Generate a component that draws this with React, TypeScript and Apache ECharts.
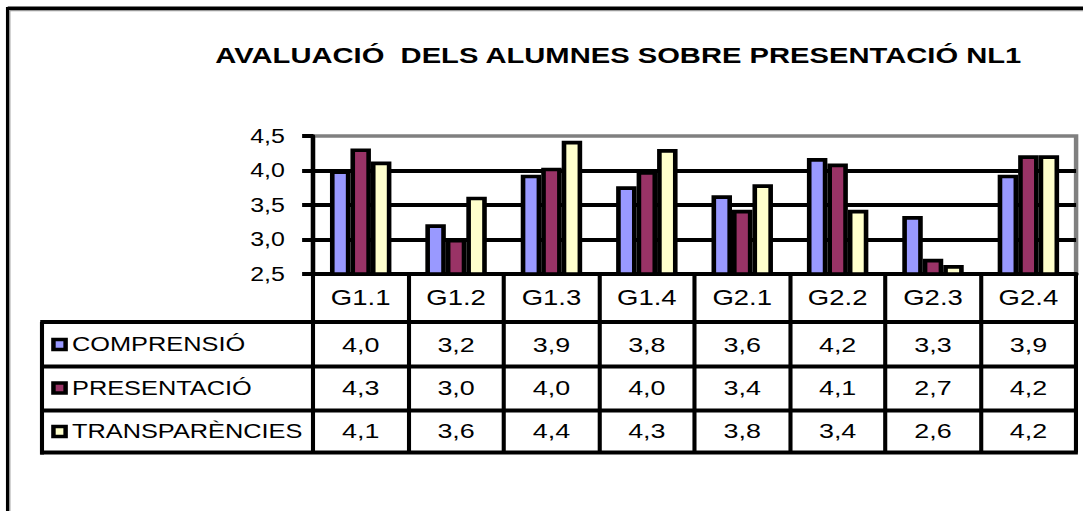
import React, { useEffect, useRef } from "react";
import * as echarts from "echarts";

// ---- data ----
const categories = ["G1.1", "G1.2", "G1.3", "G1.4", "G2.1", "G2.2", "G2.3", "G2.4"];
const seriesNames = ["COMPRENSIÓ", "PRESENTACIÓ", "TRANSPARÈNCIES"];
const comprensio = [4.0, 3.22, 3.94, 3.77, 3.64, 4.18, 3.34, 3.94];
const presentacio = [4.32, 3.01, 4.04, 3.99, 3.43, 4.1, 2.72, 4.22];
const transparencies = [4.13, 3.62, 4.43, 4.31, 3.8, 3.43, 2.63, 4.22];
const seriesColors = ["#9999FF", "#993366", "#FFFFCC"];
const yMin = 2.5;
const yMax = 4.5;
const yInterval = 0.5;
const titleText = "AVALUACIÓ  DELS ALUMNES SOBRE PRESENTACIÓ NL1";

const fmt = (v: number) => v.toFixed(1).replace(".", ",");

// layout (chart space; the whole chart is stretched horizontally)
const W = 846;
const H = 511;
const SX = 1083 / W;
const FONT = "'Liberation Sans', Arial, sans-serif";

export default function App() {
  const ref = useRef<HTMLDivElement>(null);

  useEffect(() => {
    document.body.style.margin = "0";
    if (!ref.current) return;
    const chart = echarts.init(ref.current, undefined, { renderer: "svg" });
    const values = [comprensio, presentacio, transparencies];
    const gl = 244.5;
    const gr = 5.4;
    const rowCenters = [344.5, 388, 431];
    const rowLines = [322, 366.5, 410.5, 452.5];
    const tableLeft = 32.8;
    const tableRight = W - gr + 1.4;

    const graphic: any[] = [
      { type: "line", shape: { x1: 6, y1: 8.3, x2: W + 10, y2: 8.3 }, style: { stroke: "#000", lineWidth: 3.4 } },
      { type: "line", shape: { x1: 6, y1: 7, x2: 6, y2: H + 10 }, style: { stroke: "#000", lineWidth: 2.7 } },
      { type: "line", shape: { x1: 7.5, y1: 10.6, x2: W + 10, y2: 10.6 }, style: { stroke: "#999", lineWidth: 1.2 } },
      { type: "line", shape: { x1: 7.75, y1: 10, x2: 7.75, y2: H + 10 }, style: { stroke: "#999", lineWidth: 0.8 } },
      ...rowLines.map((y) => ({
        type: "line",
        shape: { x1: tableLeft - 1.4, y1: y, x2: tableRight, y2: y },
        style: { stroke: "#000", lineWidth: 4 },
      })),
      {
        type: "line",
        shape: { x1: tableLeft, y1: rowLines[0], x2: tableLeft, y2: rowLines[3] + 2 },
        style: { stroke: "#000", lineWidth: 3.2 },
      },
    ];

    chart.setOption({
      animation: false,
      title: {
        text: titleText,
        left: 478,
        top: 39,
        textAlign: "center",
        textStyle: { fontSize: 22.8, fontWeight: "bold", color: "#000", fontFamily: FONT },
      },
      legend: {
        orient: "vertical",
        left: 40,
        top: rowCenters[0] - 11,
        itemWidth: 9.5,
        itemHeight: 10,
        itemGap: 21.5,
        padding: 0,
        icon: "rect",
        selectedMode: false,
        data: seriesNames,
        itemStyle: { borderColor: "#000", borderWidth: 3.5 },
        textStyle: { fontSize: 19.8, lineHeight: 22, color: "#000", fontFamily: FONT },
      },
      grid: [
        {
          left: gl,
          right: gr,
          top: 136,
          bottom: H - 274,
          show: true,
          borderColor: "#808080",
          borderWidth: 3.5,
          backgroundColor: "transparent",
        },
        ...rowCenters.map((c) => ({ left: gl, right: gr, top: c, height: 1 })),
      ],
      xAxis: [
        {
          type: "category",
          gridIndex: 0,
          data: categories,
          axisLine: { lineStyle: { color: "#000", width: 4 } },
          axisTick: { show: true, length: 178.5, lineStyle: { color: "#000", width: 3.2 } },
          axisLabel: {
            interval: 0,
            margin: 24,
            verticalAlign: "middle",
            fontSize: 21.5,
            color: "#000",
            fontFamily: FONT,
          },
        },
        ...values.map((v, i) => ({
          type: "category",
          gridIndex: i + 1,
          position: "top",
          data: v.map(fmt),
          axisLine: { show: false },
          axisTick: { show: false },
          splitLine: { show: false },
          axisLabel: {
            interval: 0,
            margin: 0,
            verticalAlign: "middle",
            fontSize: 21,
            color: "#000",
            fontFamily: FONT,
          },
        })),
      ],
      yAxis: [
        {
          type: "value",
          gridIndex: 0,
          min: yMin,
          max: yMax,
          interval: yInterval,
          axisLine: { show: true, lineStyle: { color: "#000", width: 3.4 } },
          axisTick: { show: true, length: 8.5, lineStyle: { color: "#000", width: 4 } },
          axisLabel: { formatter: fmt, margin: 22, fontSize: 19.5, color: "#000", fontFamily: FONT },
          splitLine: { show: true, showMaxLine: false, lineStyle: { color: "#000", width: 4 } },
        },
        ...values.map((_, i) => ({ type: "value", gridIndex: i + 1, show: false })),
      ],
      series: values.map((v, i) => ({
        type: "bar",
        name: seriesNames[i],
        xAxisIndex: 0,
        yAxisIndex: 0,
        data: v,
        barWidth: 16,
        barGap: "0%",
        itemStyle: { color: seriesColors[i], borderColor: "#000", borderWidth: 3.6 },
      })),
      graphic,
    });

    return () => chart.dispose();
  }, []);

  return (
    <div style={{ width: 1083, height: H, overflow: "hidden" }}>
      <div
        ref={ref}
        style={{ width: W, height: H, transform: `scaleX(${SX})`, transformOrigin: "0 0" }}
      />
    </div>
  );
}
